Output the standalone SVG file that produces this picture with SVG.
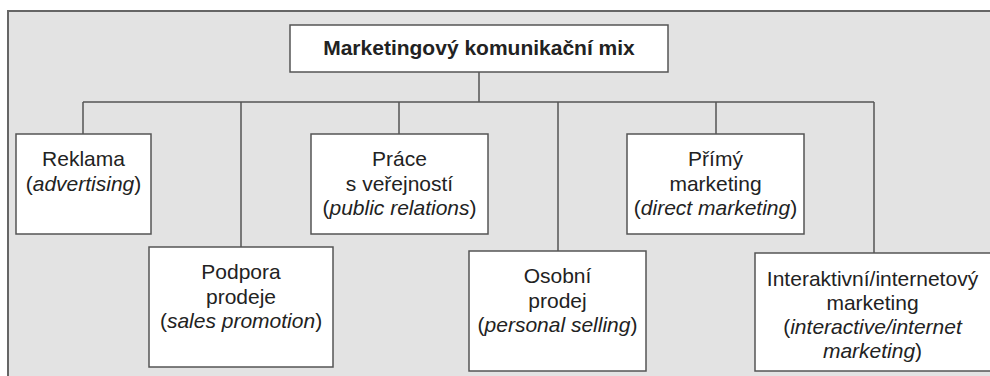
<svg xmlns="http://www.w3.org/2000/svg" width="990" height="376" viewBox="0 0 990 376">
<style>
.frame{fill:#e3e3e3;stroke:#666;stroke-width:2}
.box{fill:#fff;stroke:#555;stroke-width:1.5}
.conn{fill:none;stroke:#555;stroke-width:1.5}
text{font-family:"Liberation Sans",Arial,sans-serif;font-size:21px;fill:#222;text-anchor:middle}
.title{font-weight:bold}
.it{font-style:italic}
</style>
<rect class="frame" x="8" y="11" width="1000" height="380"/>
<g id="connectors">
<path class="conn" d="M479 72V102M83 102H874M83 102V134M241 102V247M399 102V134M558 102V251M716 102V134M874 102V253"/>
</g>
<g id="root">
<rect class="box" x="290" y="25" width="378" height="47"/>
<text class="title" x="479" y="55">Marketingový komunikační mix</text>
</g>
<g id="reklama">
<rect class="box" x="16" y="134" width="135" height="100"/>
<text x="83.5" y="166">Reklama</text>
<text x="83.5" y="191">(<tspan class="it">advertising</tspan>)</text>
</g>
<g id="podpora">
<rect class="box" x="149" y="247" width="184" height="120"/>
<text x="241" y="279">Podpora</text>
<text x="241" y="303.5">prodeje</text>
<text x="241" y="328">(<tspan class="it">sales promotion</tspan>)</text>
</g>
<g id="prace">
<rect class="box" x="311" y="134" width="177" height="100"/>
<text x="399.5" y="166">Práce</text>
<text x="399.5" y="190.5">s veřejností</text>
<text x="399.5" y="215">(<tspan class="it">public relations</tspan>)</text>
</g>
<g id="osobni">
<rect class="box" x="469" y="251" width="177" height="120"/>
<text x="557.5" y="283">Osobní</text>
<text x="557.5" y="307.5">prodej</text>
<text x="557.5" y="332">(<tspan class="it">personal selling</tspan>)</text>
</g>
<g id="primy">
<rect class="box" x="627" y="134" width="177" height="100"/>
<text x="715.5" y="166">Přímý</text>
<text x="715.5" y="190.5">marketing</text>
<text x="715.5" y="215">(<tspan class="it">direct marketing</tspan>)</text>
</g>
<g id="interaktivni">
<rect class="box" x="755" y="253" width="240" height="118"/>
<text x="872.5" y="286">Interaktivní/internetový</text>
<text x="872.5" y="310">marketing</text>
<text x="872.5" y="334">(<tspan class="it">interactive/internet</tspan></text>
<text x="872.5" y="358"><tspan class="it">marketing</tspan>)</text>
</g>
</svg>
